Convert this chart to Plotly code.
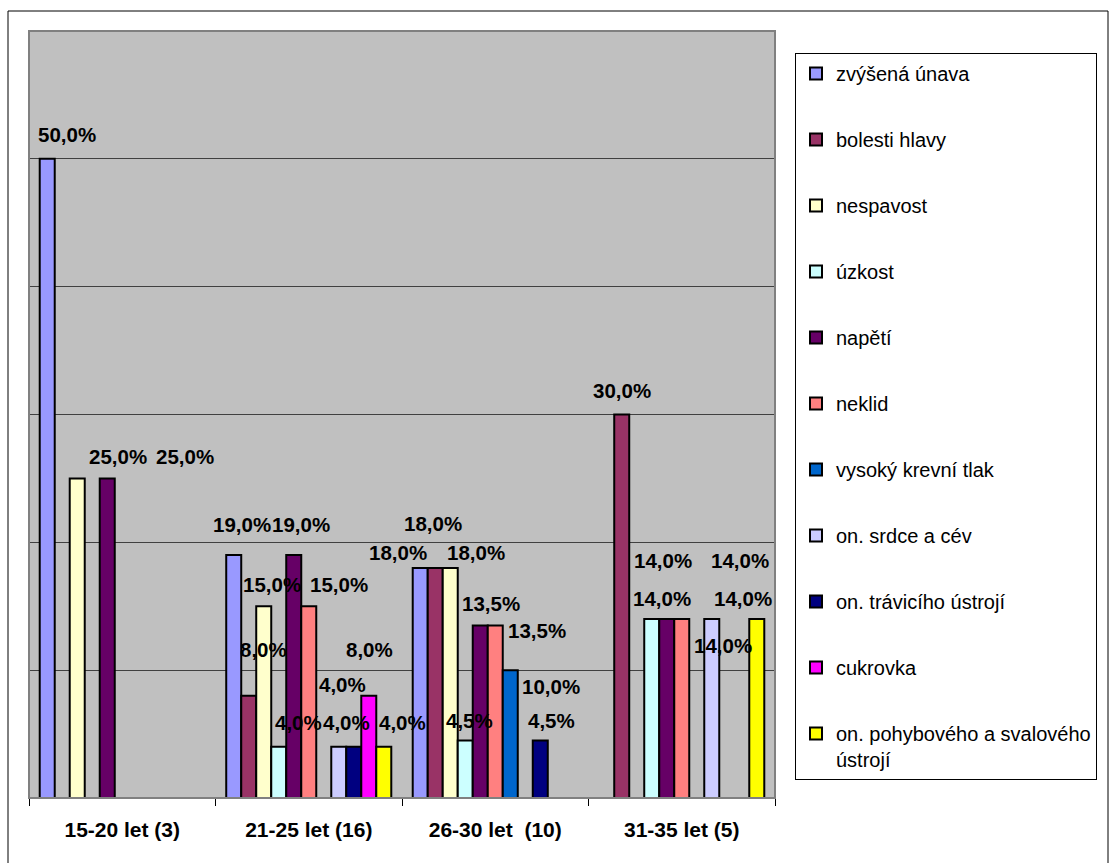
import plotly.graph_objects as go

# Age groups (number of respondents in brackets)
categories = ["15-20 let (3)", "21-25 let (16)", "26-30 let  (10)", "31-35 let (5)"]

# Share of respondents reporting each complaint, per age group (%); None = not reported
zvysena_unava = [50.0, 19.0, 18.0, None]
bolesti_hlavy = [None, 8.0, 18.0, 30.0]
nespavost = [25.0, 15.0, 18.0, None]
uzkost = [None, 4.0, 4.5, 14.0]
napeti = [25.0, 19.0, 13.5, 14.0]
neklid = [None, 15.0, 13.5, 14.0]
vysoky_tlak = [None, None, 10.0, None]
srdce_cev = [None, 4.0, None, 14.0]
traviciho_ustroji = [None, 4.0, 4.5, None]
cukrovka = [None, 8.0, None, None]
pohyboveho_ustroji = [None, 4.0, None, 14.0]

series = [
    ("zvýšená únava", zvysena_unava, "#9999FF"),
    ("bolesti hlavy", bolesti_hlavy, "#993366"),
    ("nespavost", nespavost, "#FFFFCC"),
    ("úzkost", uzkost, "#CCFFFF"),
    ("napětí", napeti, "#660066"),
    ("neklid", neklid, "#FF8080"),
    ("vysoký krevní tlak", vysoky_tlak, "#0066CC"),
    ("on. srdce a cév", srdce_cev, "#CCCCFF"),
    ("on. trávicího ústrojí", traviciho_ustroji, "#000080"),
    ("cukrovka", cukrovka, "#FF00FF"),
    ("on. pohybového a svalového<br>ústrojí", pohyboveho_ustroji, "#FFFF00"),
]

# Pixel offsets of each data label from the top centre of its bar (dx, dy; dy up)
label_offsets = {
    (0, 0): (20, 24), (2, 0): (41, 22), (4, 0): (78, 22),
    (0, 1): (8, 31), (1, 1): (15, 46), (2, 1): (8, 22), (3, 1): (20, 24),
    (4, 1): (7, 31), (5, 1): (30, 22), (7, 1): (8, 24), (8, 1): (-11, 62),
    (9, 1): (1, 46), (10, 1): (19, 24),
    (0, 2): (-22, 15), (1, 2): (-2, 44), (2, 2): (26, 15), (3, 2): (4, 20),
    (4, 2): (11, 22), (5, 2): (42, -5), (6, 2): (41, -16), (8, 2): (11, 20),
    (1, 3): (0, 24), (3, 3): (11, 59), (4, 3): (-5, 21), (5, 3): (61, 21),
    (7, 3): (11, -26), (10, 3): (-17, 59),
}

FONT = "Arial, Liberation Sans, sans-serif"
BARGAP = 0.115
n_series = len(series)
slot = (1 - BARGAP) / n_series

fig = go.Figure()
annotations = []
for i, (name, values, color) in enumerate(series):
    fig.add_trace(go.Bar(
        name=name,
        x=categories,
        y=values,
        legendgroup=f"g{i}",
        marker=dict(color=color, line=dict(color="black", width=2)),
        hoverinfo="x+y+name",
    ))
    for k, v in enumerate(values):
        if v is None:
            continue
        dx, dy = label_offsets.get((i, k), (0, 20))
        annotations.append(dict(
            x=k + (i - (n_series - 1) / 2) * slot,
            y=v,
            xref="x", yref="y",
            text=f"{v:.1f}".replace(".", ",") + "%",
            showarrow=False,
            xshift=dx, yshift=dy,
            font=dict(family=FONT, size=20.5, color="black", weight="bold"),
        ))

shapes = [
    # plot-area frame
    dict(type="rect", xref="paper", yref="paper", x0=0, x1=1, y0=0, y1=1,
         line=dict(color="#808080", width=2), layer="above"),
    # outer chart frame
    dict(type="rect", xref="paper", yref="paper",
         x0=-21 / 746, x1=1079 / 746, y0=-80 / 767, y1=787 / 767,
         line=dict(color="black", width=1)),
]

fig.update_layout(
    width=1109, height=863,
    margin=dict(l=29, r=334, t=31, b=65),
    paper_bgcolor="white",
    plot_bgcolor="#C0C0C0",
    barmode="group",
    bargap=BARGAP,
    bargroupgap=0,
    font=dict(family=FONT, size=20, color="black"),
    annotations=annotations,
    shapes=shapes,
    showlegend=True,
    legend=dict(
        x=766 / 746, y=745 / 767, xanchor="left", yanchor="top",
        xref="paper", yref="paper",
        bordercolor="black", borderwidth=1, bgcolor="white",
        font=dict(family=FONT, size=20, color="black"),
        tracegroupgap=37, valign="top",
        traceorder="grouped",
    ),
    xaxis=dict(
        type="category",
        showline=True, linecolor="black", linewidth=1,
        ticks="outside", ticklen=7, tickcolor="black", tickson="boundaries",
        tickfont=dict(family=FONT, size=21, color="black", weight="bold"),
        ticklabelstandoff=13,
        showgrid=False, fixedrange=True,
    ),
    yaxis=dict(
        range=[0, 60], dtick=10,
        showgrid=True, gridcolor="#404040", gridwidth=1,
        showticklabels=False, ticks="", zeroline=False, showline=False,
        fixedrange=True,
    ),
)

fig.write_html("out.html")
